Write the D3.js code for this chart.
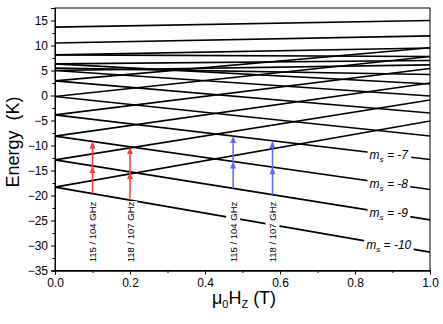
<!DOCTYPE html>
<html><head><meta charset="utf-8">
<script src="https://cdn.jsdelivr.net/npm/d3@7"></script>
<style>body{margin:0;background:#fff}svg{display:block;font-family:"Liberation Sans",Arial,sans-serif}</style>
</head><body><svg id="c" width="443" height="324"></svg>
<script>
// Field endpoints (T)
const fieldPoints = [0, 1];
// Level energies (K) at B = 0 and B = 1 T
const energyAt0 = [-18.33,-18.33,-12.87,-12.87,-8.13,-8.13,-3.87,-3.87,-0.2,-0.2,2.93,2.93,5.0,6.33,5.0,5.47,6.33,8.13,8.13,10.5,13.67];
const energyAt1 = [-31.33,-5.1,-24.87,-0.9,-18.8,2.5,-12.8,5.4,-8.1,7.8,-3.5,9.55,-0.1,2.3,6.13,4.2,7.0,9.5,7.8,11.93,15.0];
// Transition arrows
const arrowField = [0.1, 0.2, 0.475, 0.58];
const arrowStart = [-19.6, -20.9, -18.55, -19.85];
const arrowMid = [-14.1, -15.3, -13.2, -14.35];
const arrowEnd = [-9.2, -10.3, -8.1, -9.1];
const arrowGroup = ["red", "red", "blue", "blue"];
const arrowLabels = ["115 / 104 GHz", "118 / 107 GHz", "115 / 104 GHz", "118 / 107 GHz"];
// State labels
const stateLabels = ["-7", "-8", "-9", "-10"];
const stateLevelIndex = [6, 4, 2, 0];
const stateLabelField = 0.89;
// Axis ticks
const xTicks = [0, 0.2, 0.4, 0.6, 0.8, 1.0];
const yTicks = [-35, -30, -25, -20, -15, -10, -5, 0, 5, 10, 15];

const svg = d3.select("#c");
const x = d3.scaleLinear().domain([0, 1]).range([55, 430]);
const y = d3.scaleLinear().domain([-35, 17.5]).range([270.5, 8]);
const colors = {red: "#ff3b3b", blue: "#6464ff"};

// levels
const line = d3.line().x(d => x(d[0])).y(d => y(d[1]));
const gLev = svg.append("g");
energyAt0.forEach((e0, i) => {
  gLev.append("path").attr("d", line([[fieldPoints[0], e0], [fieldPoints[1], energyAt1[i]]]))
    .attr("fill", "none").attr("stroke", "#000").attr("stroke-width", 1.6);
});

// arrows
const gArr = svg.append("g");
arrowField.forEach((b, i) => {
  const c = colors[arrowGroup[i]];
  const xp = x(b);
  gArr.append("line").attr("x1", xp).attr("x2", xp).attr("y1", y(arrowStart[i])).attr("y2", y(arrowEnd[i]) + 2)
    .attr("stroke", c).attr("stroke-width", 1.5);
  [arrowMid[i], arrowEnd[i]].forEach(e => {
    const yt = y(e);
    gArr.append("path").attr("d", `M${xp},${yt} L${xp - 3},${yt + 7} L${xp + 3},${yt + 7} Z`).attr("fill", c);
  });
  const g = gArr.append("g").attr("transform", `translate(${xp + 3.5},232) rotate(-90)`);
  g.append("rect").attr("x", -31).attr("y", -10.5).attr("width", 62).attr("height", 14).attr("fill", "#fff");
  g.append("text").attr("text-anchor", "middle").attr("font-size", 9.5).attr("fill", "#000").text(arrowLabels[i]);
});

// state labels
const gState = svg.append("g");
stateLabels.forEach((lab, i) => {
  const k = stateLevelIndex[i];
  const e = energyAt0[k] + (energyAt1[k] - energyAt0[k]) * stateLabelField;
  const xp = x(stateLabelField), yp = y(e);
  const g = gState.append("g");
  const bg = g.append("rect").attr("fill", "#fff");
  const t = g.append("text").attr("x", xp).attr("y", yp + 4).attr("text-anchor", "middle")
    .attr("font-size", 12).attr("font-style", "italic");
  t.append("tspan").text("m");
  t.append("tspan").attr("font-size", 8).attr("dy", 3).text("s");
  t.append("tspan").attr("dy", -3).text(" = " + lab);
  const bb = t.node().getBBox();
  bg.attr("x", bb.x - 2).attr("y", bb.y).attr("width", bb.width + 4).attr("height", bb.height);
});

// frame
svg.append("rect").attr("x", 55).attr("y", 8).attr("width", 375).attr("height", 262.5)
  .attr("fill", "none").attr("stroke", "#000").attr("stroke-width", 1);

// axes
const xAxis = svg.append("g").attr("transform", "translate(0,270.5)");
xAxis.call(d3.axisBottom(x).tickValues(xTicks).tickFormat(d3.format(".1f")).tickSize(4).tickPadding(4));
xAxis.append("g").call(d3.axisBottom(x).tickValues(d3.range(0.1, 1, 0.2)).tickSize(2.5).tickFormat(""));
const yAxis = svg.append("g").attr("transform", "translate(55,0)");
yAxis.call(d3.axisLeft(y).tickValues(yTicks).tickSize(4).tickPadding(3));
yAxis.append("g").call(d3.axisLeft(y).tickValues(d3.range(-32.5, 17, 5)).tickSize(2.5).tickFormat(""));
svg.selectAll(".domain").attr("stroke", "#000");
svg.selectAll(".tick text").attr("font-size", 12).attr("font-family", "Liberation Sans, Arial, sans-serif").attr("fill", "#000");

// titles
const xt = svg.append("text").attr("x", 244).attr("y", 304).attr("text-anchor", "middle").attr("font-size", 18);
xt.append("tspan").text("μ");
xt.append("tspan").attr("font-size", 11).attr("dy", 4).text("0");
xt.append("tspan").attr("dy", -4).text("H");
xt.append("tspan").attr("font-size", 11).attr("dy", 4).text("Z");
xt.append("tspan").attr("dy", -4).text(" (T)");
svg.append("text").attr("transform", "translate(19,142) rotate(-90)").attr("text-anchor", "middle")
  .attr("font-size", 18).style("white-space", "pre").text("Energy  (K)");
</script></body></html>
